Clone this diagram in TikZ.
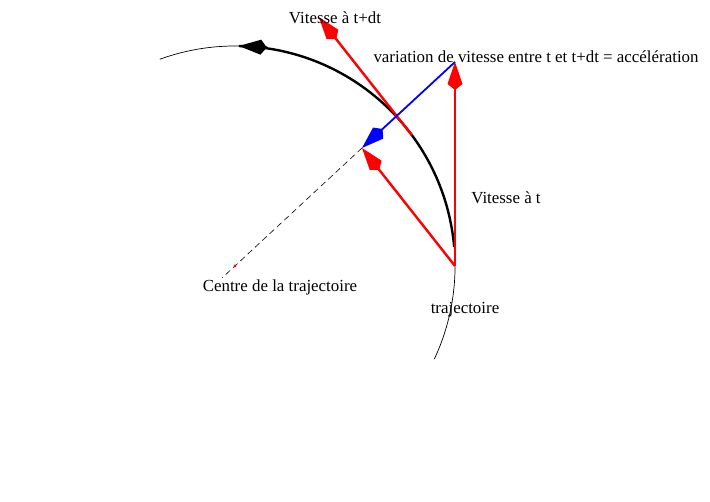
\documentclass[tikz,border=0pt]{standalone}
\usepackage{fontspec}
\setmainfont{Liberation Serif}
\usetikzlibrary{arrows.meta,calc}

\begin{document}
\begin{tikzpicture}
      [ x=1pt, y=1pt,
        font=\fontsize{16.9}{18}\selectfont,
        kite/.style={-{Kite[length=28pt,width=15pt,inset=6pt]}},
        vecred/.style={red, line width=2.4pt, kite},
        vecblue/.style={blue, line width=1.8pt, kite},
        radius line/.style={line width=0.6pt, dash pattern=on 6pt off 4pt}
      ]
      \useasboundingbox (0,0) rectangle (710,502);

      \coordinate (C)    at (235,236);   % centre
      \coordinate (Cend) at (222,224);
      \coordinate (P)    at (455,236);   % point at t
      \coordinate (A)    at (455,440);   % tip of v(t)
      \coordinate (Q)    at (362,354);   % tip of v(t+dt) drawn from P
      \coordinate (R)    at ($(C)+(36.5:220)$); % point at t+dt
      \coordinate (B)    at ($(R)+(Q)-(P)$);
      \coordinate (T)    at ($(C)+(89:220)$);   % arrow on the trajectory
      \coordinate (T0)   at ($(T)+(-3:28.5)$);

      % trajectory
      \draw[line width=0.7pt] ([shift={(C)}]-25:220) arc[start angle=-25, end angle=110, radius=220];
      \draw[line width=2.4pt] ([shift={(C)}]5:220) arc[start angle=5, end angle=89, radius=220];
      \draw[line width=2.4pt, kite] (T0) -- (T);

      % radius
      \draw[radius line] (Q) -- (Cend);
      \fill[red] (C) circle (1.5pt);

      % vectors
      \draw[vecred]  (P) -- (A);
      \draw[vecred]  (P) -- (Q);
      \draw[vecred]  (R) -- (B);
      \draw[vecblue] (A) -- (Q);

      % labels
      \node (vdt)   at (335,484)            {Vitesse à t+dt};
      \node (acc)   [anchor=west] at (370,445) {variation de vitesse entre t et t+dt = accélération};
      \node (vt)    at (506,304)            {Vitesse à t};
      \node (centre) at (280,215)           {Centre de la trajectoire};
      \node (traj)  at (465,192)            {trajectoire};
\end{tikzpicture}
\end{document}
